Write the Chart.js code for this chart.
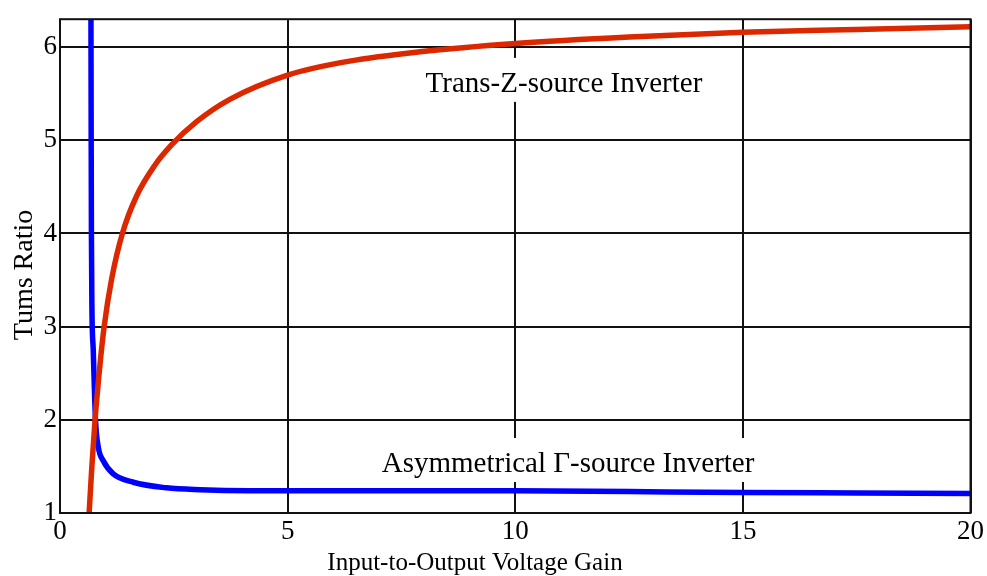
<!DOCTYPE html>
<html>
<head>
<meta charset="utf-8">
<script src="https://cdn.jsdelivr.net/npm/chart.js@4/dist/chart.umd.min.js"></script>
<style>
  html, body { margin: 0; padding: 0; background: #ffffff; }
  #wrap { width: 987px; height: 576px; }
</style>
</head>
<body>
<div id="wrap"><canvas id="chart" width="987" height="576"></canvas></div>
<script>
// Turns ratio vs. input-to-output voltage gain.

// Trans-Z-source inverter (red)
const transZGain  = [0.64, 0.70, 0.77, 0.88, 0.97, 1.13, 1.37, 1.68, 2.08, 2.45, 3.0, 3.73, 5, 6.36, 7.9, 10, 12.5, 15, 17.5, 20];
const transZRatio = [1.0, 1.5, 2.0, 2.6, 3.0, 3.5, 4.0, 4.4, 4.73, 4.95, 5.2, 5.44, 5.70, 5.85, 5.95, 6.04, 6.11, 6.16, 6.19, 6.22];

// Asymmetrical Γ-source inverter (blue)
const gammaGain  = [0.68, 0.685, 0.69, 0.70, 0.73, 0.78, 0.84, 0.95, 1.17, 1.61, 2.34, 3.07, 4.17, 6, 8, 10, 12.5, 15, 17.5, 20];
const gammaRatio = [6.3, 5.0, 4.0, 3.25, 2.75, 2.0, 1.71, 1.56, 1.42, 1.33, 1.27, 1.25, 1.24, 1.24, 1.24, 1.24, 1.23, 1.22, 1.215, 1.21];

const xTickStep = 5;
const yTickStep = 1;

const serif = "'Liberation Serif', 'Times New Roman', serif";

function toPoints(xs, ys) {
  return xs.map(function(x, i) { return { x: x, y: ys[i] }; });
}

// Text labels inside the plot, placed in data coordinates
const curveLabels = [
  { text: "Trans-Z-source Inverter", x: 11.07, y: 5.52 },
  { text: "Asymmetrical \u0393-source Inverter", x: 11.16, y: 1.44 }
];

const plotDecor = {
  id: "plotDecor",
  beforeDatasetsDraw: function(chart) {
    const ctx = chart.ctx;
    const sx = chart.scales.x, sy = chart.scales.y;
    ctx.save();
    ctx.font = "29px " + serif;
    ctx.textAlign = "center";
    ctx.textBaseline = "alphabetic";
    curveLabels.forEach(function(l) {
      const px = sx.getPixelForValue(l.x);
      const py = sy.getPixelForValue(l.y);
      const w = ctx.measureText(l.text).width;
      ctx.fillStyle = "#ffffff";
      ctx.fillRect(px - w / 2 - 6, py - 34, w + 12, 44);
      ctx.fillStyle = "#000000";
      ctx.fillText(l.text, px, py);
    });
    ctx.restore();
  },
  afterDraw: function(chart) {
    const ctx = chart.ctx;
    const a = chart.chartArea;
    ctx.save();
    // frame
    ctx.strokeStyle = "#111111";
    ctx.lineWidth = 2;
    ctx.strokeRect(a.left, a.top, a.right - a.left, a.bottom - a.top);
    // axis titles
    ctx.fillStyle = "#000000";
    ctx.font = "25px " + serif;
    ctx.textAlign = "center";
    ctx.textBaseline = "alphabetic";
    ctx.fillText("Input-to-Output Voltage Gain", 475, 570);
    ctx.translate(32, 275);
    ctx.rotate(-Math.PI / 2);
    ctx.font = "28px " + serif;
    ctx.fillText("Tums Ratio", 0, 0);
    ctx.restore();
  }
};

new Chart(document.getElementById("chart").getContext("2d"), {
  type: "scatter",
  data: {
    datasets: [
      {
        label: "Trans-Z-source Inverter",
        data: toPoints(transZGain, transZRatio),
        showLine: true,
        borderColor: "#dc2800",
        backgroundColor: "#dc2800",
        borderWidth: 5.5,
        pointRadius: 0,
        cubicInterpolationMode: "monotone"
      },
      {
        label: "Asymmetrical \u0393-source Inverter",
        data: toPoints(gammaGain, gammaRatio),
        showLine: true,
        borderColor: "#0000ff",
        backgroundColor: "#0000ff",
        borderWidth: 5.5,
        pointRadius: 0,
        cubicInterpolationMode: "monotone"
      }
    ]
  },
  options: {
    responsive: false,
    animation: false,
    devicePixelRatio: 1,
    layout: { padding: { top: 16, right: 15, left: 0, bottom: 0 } },
    plugins: {
      legend: { display: false },
      tooltip: { enabled: false }
    },
    scales: {
      x: {
        type: "linear",
        min: 0,
        max: 20,
        afterFit: function(scale) { scale.height = 63; },
        grid: { color: "#111111", lineWidth: 2, drawTicks: false },
        border: { display: false },
        ticks: {
          stepSize: xTickStep,
          padding: 3,
          maxRotation: 0,
          color: "#000000",
          font: { family: serif, size: 27 }
        }
      },
      y: {
        type: "linear",
        min: 1,
        max: 6.3,
        afterFit: function(scale) { scale.width = 60; },
        grid: { color: "#111111", lineWidth: 2, drawTicks: false },
        border: { display: false },
        ticks: {
          stepSize: yTickStep,
          includeBounds: false,
          padding: 3,
          color: "#000000",
          font: { family: serif, size: 27 }
        }
      }
    }
  },
  plugins: [plotDecor]
});
</script>
</body>
</html>
